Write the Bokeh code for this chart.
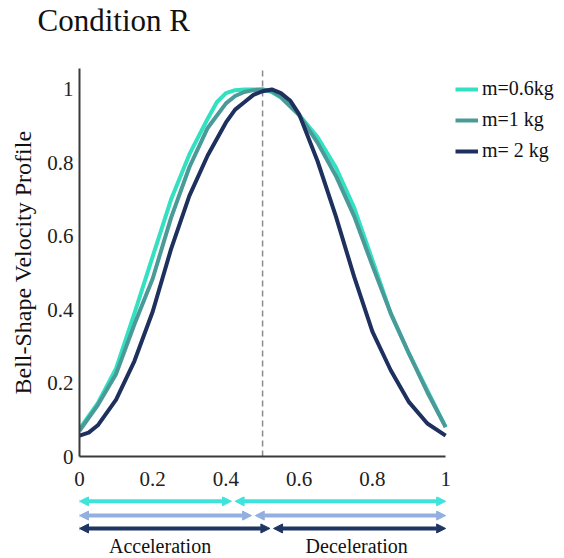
from bokeh.plotting import figure
from bokeh.layouts import column
from bokeh.models import Arrow, NormalHead, Legend, LegendItem, FixedTicker, Range1d
from bokeh.embed import file_html
from bokeh.resources import INLINE
from bokeh.core.properties import value

# ---- data ----
x_06kg = [0.0, 0.05, 0.1, 0.15, 0.2, 0.25, 0.3, 0.35, 0.375, 0.4, 0.425, 0.45, 0.5,
          0.525, 0.55, 0.6, 0.65, 0.7, 0.75, 0.8, 0.85, 0.9, 0.95, 1.0]
vel_06kg = [0.075, 0.145, 0.24, 0.39, 0.545, 0.70, 0.823, 0.92, 0.965, 0.99, 0.998, 1.0, 1.0,
            0.993, 0.978, 0.93, 0.87, 0.788, 0.678, 0.535, 0.39, 0.28, 0.18, 0.08]
x_1kg = [0.0, 0.05, 0.1, 0.15, 0.2, 0.25, 0.3, 0.35, 0.4, 0.425, 0.45, 0.475, 0.5,
         0.525, 0.55, 0.6, 0.65, 0.7, 0.75, 0.8, 0.85, 0.9, 0.95, 1.0]
vel_1kg = [0.07, 0.14, 0.225, 0.36, 0.485, 0.65, 0.788, 0.895, 0.962, 0.982, 0.993, 0.998, 1.0,
           0.995, 0.98, 0.93, 0.855, 0.765, 0.655, 0.52, 0.39, 0.28, 0.175, 0.08]
x_2kg = [0.0, 0.025, 0.05, 0.1, 0.15, 0.2, 0.25, 0.3, 0.35, 0.4, 0.425, 0.45, 0.475, 0.5, 0.525,
         0.55, 0.575, 0.6, 0.65, 0.7, 0.75, 0.8, 0.85, 0.9, 0.95, 1.0]
vel_2kg = [0.057, 0.065, 0.085, 0.155, 0.26, 0.395, 0.565, 0.71, 0.82, 0.91, 0.945, 0.965, 0.985, 0.995, 1.0,
           0.99, 0.97, 0.932, 0.805, 0.655, 0.49, 0.34, 0.235, 0.148, 0.09, 0.057]
series_labels = ["m=0.6kg", "m=1 kg", "m= 2 kg"]
series_colors = ["#33e0c2", "#4a9a98", "#1d305e"]

y_ticks = [0, 0.2, 0.4, 0.6, 0.8, 1]
y_tick_labels = ["0", "0.2", "0.4", "0.6", "0.8", "1"]
x_ticks = [0, 0.2, 0.4, 0.6, 0.8, 1]
x_tick_labels = ["0", "0.2", "0.4", "0.6", "0.8", "1"]

title_text = "Condition R"
midpoint = 0.5
# end of the acceleration phase per mass, and arrow rows
acc_end = [0.415, 0.47, 0.52]
arrow_gap = 0.01
arrow_rows = [-0.122, -0.161, -0.196]
arrow_colors = ["#3ee3dc", "#93afe0", "#1f3563"]
phase_labels = ["Acceleration", "Deceleration"]
phase_label_x = [0.22, 0.757]
phase_label_y = -0.243

FONT = "Liberation Serif"
Y_TOP = 1.057
X_END = 1.30
LEFT = 79
TITLE_H = 68
BOTTOM = 40
FRAME_H = 388
Q_H = 60
W = LEFT + 476
PX_PER_UNIT = FRAME_H / Y_TOP

x_range = Range1d(0, X_END)


def bare(fig):
    fig.axis.visible = False
    fig.grid.visible = False
    fig.outline_line_color = None


# ---- title strip ----
t = figure(width=W, height=TITLE_H, output_backend="svg", toolbar_location=None,
           x_range=x_range, y_range=Range1d(0, 1),
           min_border_left=LEFT, min_border_right=0, min_border_top=0, min_border_bottom=0)
bare(t)
t.title.text = title_text
t.title.text_font = FONT
t.title.text_font_size = "31px"
t.title.text_font_style = "normal"
t.title.text_color = "#111111"
t.title.align = "left"
t.title.offset = -42
t.title.standoff = 0

# ---- main plot ----
p = figure(width=W, height=FRAME_H + BOTTOM, output_backend="svg", toolbar_location=None,
           x_range=x_range, y_range=Range1d(0, Y_TOP),
           min_border_left=LEFT, min_border_right=0, min_border_top=0, min_border_bottom=BOTTOM)
p.outline_line_color = None
p.grid.visible = False

p.xaxis.bounds = (0, 1)
p.xaxis.ticker = FixedTicker(ticks=x_ticks)
p.xaxis.major_label_overrides = {t_: l for t_, l in zip(x_ticks, x_tick_labels)}
p.yaxis.ticker = FixedTicker(ticks=y_ticks)
p.yaxis.major_label_overrides = {t_: l for t_, l in zip(y_ticks, y_tick_labels)}
for ax in (p.xaxis, p.yaxis):
    ax.axis_line_color = "#3a3a3a"
    ax.axis_line_width = 2
    ax.major_tick_in = 0
    ax.major_tick_out = 0
    ax.minor_tick_in = 0
    ax.minor_tick_out = 0
    ax.major_label_text_font = FONT
    ax.major_label_text_font_size = "21px"
    ax.major_label_text_color = "#222222"
p.xaxis.major_label_standoff = 15
p.yaxis.major_label_standoff = 6
p.yaxis.axis_label = "Bell-Shape Velocity Profile"
p.yaxis.axis_label_text_font = FONT
p.yaxis.axis_label_text_font_size = "24px"
p.yaxis.axis_label_text_font_style = "normal"
p.yaxis.axis_label_text_color = "#111111"
p.yaxis.axis_label_standoff = 8

# vertical dashed line at the midpoint
p.segment(x0=[midpoint], y0=[0], x1=[midpoint], y1=[Y_TOP], line_color="#8a8a8a",
          line_width=1.5, line_dash="6 4")

r1 = p.line(x_06kg, vel_06kg, line_color=series_colors[0], line_width=4, line_join="round")
r2 = p.line(x_1kg, vel_1kg, line_color=series_colors[1], line_width=4, line_join="round")
r3 = p.line(x_2kg, vel_2kg, line_color=series_colors[2], line_width=4, line_join="round")

legend = Legend(items=[LegendItem(label=series_labels[0], renderers=[r1]),
                       LegendItem(label=series_labels[1], renderers=[r2]),
                       LegendItem(label=series_labels[2], renderers=[r3])],
                location=(376, 294), orientation="vertical")
legend.label_text_font = FONT
legend.label_text_font_size = "20px"
legend.label_text_color = "#111111"
legend.glyph_width = 23
legend.glyph_height = 20
legend.label_height = 20
legend.label_standoff = 4
legend.spacing = 8
legend.padding = 0
legend.margin = 0
legend.border_line_alpha = 0
legend.background_fill_alpha = 0
p.add_layout(legend)

# ---- phase arrows panel (same vertical scale as the main plot) ----
q_top = -BOTTOM / PX_PER_UNIT
q_bottom = q_top - Q_H / PX_PER_UNIT
q = figure(width=W, height=Q_H, output_backend="svg", toolbar_location=None,
           x_range=x_range, y_range=Range1d(q_bottom, q_top),
           min_border_left=LEFT, min_border_right=0, min_border_top=0, min_border_bottom=0)
bare(q)

for ae, yr, c in zip(acc_end, arrow_rows, arrow_colors):
    for xs, xe in ((0.0, ae), (ae + arrow_gap, 1.0)):
        q.add_layout(Arrow(
            start=NormalHead(size=9, fill_color=c, line_color=c, line_width=1),
            end=NormalHead(size=9, fill_color=c, line_color=c, line_width=1),
            x_start=xs, y_start=yr, x_end=xe, y_end=yr,
            line_color=c, line_width=4))

q.text(x=phase_label_x, y=[phase_label_y] * 2, text=phase_labels,
       text_font=value(FONT), text_font_size="20px", text_color="#111111",
       text_align="center", text_baseline="middle")

layout = column(t, p, q, spacing=0)
open("out.html", "w").write(file_html(layout, INLINE))
